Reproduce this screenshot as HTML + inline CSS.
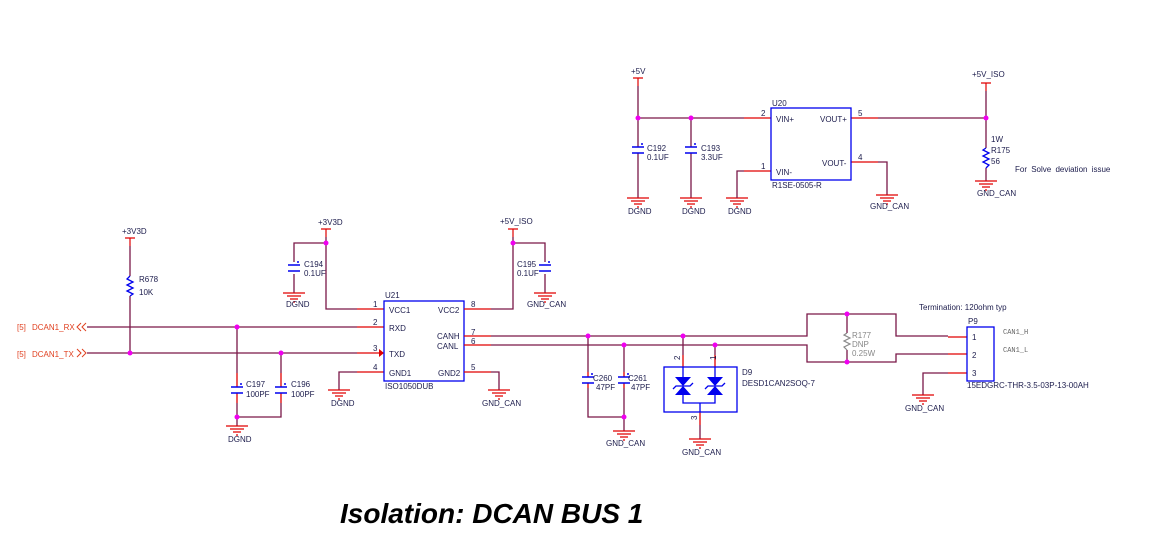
<!DOCTYPE html>
<html><head><meta charset="utf-8"><style>
html,body{margin:0;padding:0;background:#fff;width:1155px;height:543px;overflow:hidden}
svg{display:block}
text{font-family:"Liberation Sans",sans-serif;font-size:8px;fill:#1c1c4c}
.w{stroke:#7a1848;stroke-width:1.3;fill:none}
.r{stroke:#e00000;stroke-width:1.3;fill:none}
.b{stroke:#0000ee;stroke-width:1.3;fill:none}
.j{fill:#f000f0}
</style></head><body>
<svg width="1155" height="543" viewBox="0 0 1155 543" xmlns="http://www.w3.org/2000/svg">
<defs>
<g id="gnd" class="r"><path d="M-11 0H11M-7 3H7M-4 6H4M-1 9H1" stroke="#e00000" stroke-width="1.2"/></g>
<g id="cap"><path d="M-6 -3H6M-6 3H6" stroke="#0000ee" stroke-width="1.4"/><circle cx="4" cy="-6" r="1" fill="#0000ee"/></g>
<g id="pwr"><path d="M-5 0H5M0 0V8" stroke="#e00000" stroke-width="1.2"/></g>
</defs>

<!-- ========== TOP: U20 ========== -->
<text x="631" y="74" font-size="7">+5V</text>
<use href="#pwr" x="638" y="78"/>
<path class="w" d="M638 86V147M638 153V198M638 118H744M691 118V147M691 153V198"/>
<use href="#cap" x="638" y="150"/><use href="#cap" x="691" y="150"/>
<text x="647" y="151">C192</text><text x="647" y="160">0.1UF</text>
<text x="701" y="151">C193</text><text x="701" y="160">3.3UF</text>
<use href="#gnd" x="638" y="198"/><use href="#gnd" x="691" y="198"/><use href="#gnd" x="737" y="198"/>
<text x="628" y="214">DGND</text><text x="682" y="214">DGND</text><text x="728" y="214">DGND</text>
<circle class="j" cx="638" cy="118" r="2.5"/><circle class="j" cx="691" cy="118" r="2.5"/>
<path class="r" d="M744 118H771M744 171H771M851 118H878M851 162H878"/>
<path class="w" d="M737 198V171H744M878 162H887V195M878 118H986"/>
<rect class="b" x="771" y="108" width="80" height="72"/>
<text x="772" y="106">U20</text><text x="772" y="188">R1SE-0505-R</text>
<text x="761" y="116">2</text><text x="761" y="169">1</text><text x="858" y="116">5</text><text x="858" y="160">4</text>
<text x="776" y="122">VIN+</text><text x="776" y="175">VIN-</text>
<text x="820" y="122">VOUT+</text><text x="822" y="166">VOUT-</text>
<use href="#gnd" x="887" y="195"/><text x="870" y="209">GND_CAN</text>
<text x="972" y="77" font-size="7.5">+5V_ISO</text>
<use href="#pwr" x="986" y="83"/>
<path class="w" d="M986 91V148M986 168V181"/>
<circle class="j" cx="986" cy="118" r="2.5"/>
<polyline class="b" points="986,148 983,150 989,153 983,156 989,159 983,162 989,165 986,168"/>
<text x="991" y="142">1W</text><text x="991" y="153">R175</text><text x="991" y="164">56</text>
<use href="#gnd" x="986" y="181"/><text x="977" y="196">GND_CAN</text>
<text x="1015" y="172" word-spacing="2">For Solve deviation issue</text>

<!-- ========== BOTTOM LEFT ========== -->
<text x="122" y="234" font-size="7">+3V3D</text>
<use href="#pwr" x="130" y="238"/>
<path class="w" d="M130 246V276M130 296V353"/>
<polyline class="b" points="130,276 127,279 133,282 127,285 133,288 127,291 133,294 130,296"/>
<text x="139" y="282">R678</text><text x="139" y="295">10K</text>

<text x="17" y="330" style="fill:#e04020">[5]</text><text x="32" y="330" style="fill:#e04020">DCAN1_RX</text>
<text x="17" y="357" style="fill:#e04020">[5]</text><text x="32" y="357" style="fill:#e04020">DCAN1_TX</text>
<path d="M81 323L77 327L81 331M86 323L82 327L86 331" stroke="#e04020" stroke-width="1" fill="none"/>
<path d="M77 349L81 353L77 357M82 349L86 353L82 357" stroke="#e04020" stroke-width="1" fill="none"/>
<path class="w" d="M87 327H357M87 353H357"/>
<path class="w" d="M237 327V373M237 403V417H281V403M281 353V373M237 417V426"/>
<path class="r" d="M237 373V387M237 393V403M281 373V387M281 393V403"/>
<use href="#cap" x="237" y="390"/><use href="#cap" x="281" y="390"/>
<text x="246" y="387">C197</text><text x="246" y="397">100PF</text>
<text x="291" y="387">C196</text><text x="291" y="397">100PF</text>
<use href="#gnd" x="237" y="426"/><text x="228" y="442">DGND</text>
<circle class="j" cx="130" cy="353" r="2.5"/><circle class="j" cx="237" cy="327" r="2.5"/>
<circle class="j" cx="281" cy="353" r="2.5"/><circle class="j" cx="237" cy="417" r="2.5"/>

<!-- U21 -->
<text x="318" y="225" font-size="7">+3V3D</text>
<use href="#pwr" x="326" y="229"/>
<path class="w" d="M326 237V309H357M326 243H294V262M294 274V293"/>
<use href="#cap" x="294" y="268"/>
<text x="304" y="267">C194</text><text x="304" y="276">0.1UF</text>
<use href="#gnd" x="294" y="293"/><text x="286" y="307">DGND</text>
<circle class="j" cx="326" cy="243" r="2.5"/>
<path class="r" d="M357 309H384M357 327H384M357 353H380M357 372H384"/>
<path d="M379 349L384 353L379 357Z" fill="#e00000"/>
<path class="w" d="M357 372H339V390"/>
<use href="#gnd" x="339" y="390"/><text x="331" y="406">DGND</text>
<rect class="b" x="384" y="301" width="80" height="80"/>
<text x="385" y="298">U21</text><text x="385" y="389">ISO1050DUB</text>
<text x="373" y="307">1</text><text x="373" y="325">2</text><text x="373" y="351">3</text><text x="373" y="370">4</text>
<text x="389" y="313">VCC1</text><text x="389" y="331">RXD</text><text x="389" y="357">TXD</text><text x="389" y="376">GND1</text>
<text x="438" y="313">VCC2</text><text x="437" y="339">CANH</text><text x="437" y="349">CANL</text><text x="438" y="376">GND2</text>
<text x="471" y="307">8</text><text x="471" y="335">7</text><text x="471" y="344">6</text><text x="471" y="370">5</text>
<path class="r" d="M464 309H491M464 336H491M464 345H491M464 372H491"/>
<text x="500" y="224" font-size="7.5">+5V_ISO</text>
<use href="#pwr" x="513" y="229"/>
<path class="w" d="M513 237V309H491M513 243H545V262M545 274V293M491 372H499V390"/>
<use href="#cap" x="545" y="268"/>
<text x="517" y="267">C195</text><text x="517" y="276">0.1UF</text>
<use href="#gnd" x="545" y="293"/><text x="527" y="307">GND_CAN</text>
<circle class="j" cx="513" cy="243" r="2.5"/>
<use href="#gnd" x="499" y="390"/><text x="482" y="406">GND_CAN</text>

<!-- CAN bus -->
<path class="w" d="M491 336H807V314H896V336H948M491 345H807V362H896V354H948"/>
<path class="r" d="M948 337H967M948 354H967M948 373H967"/>
<path class="w" d="M588 336V372M588 388V417H624M624 345V372M624 388V431"/>
<path class="r" d="M588 372V377M588 383V388M624 372V377M624 383V388"/>
<use href="#cap" x="588" y="380"/><use href="#cap" x="624" y="380"/>
<text x="593" y="381">C260</text><text x="596" y="390">47PF</text>
<text x="628" y="381">C261</text><text x="631" y="390">47PF</text>
<use href="#gnd" x="624" y="431"/><text x="606" y="446">GND_CAN</text>
<circle class="j" cx="588" cy="336" r="2.5"/><circle class="j" cx="624" cy="345" r="2.5"/><circle class="j" cx="624" cy="417" r="2.5"/>

<!-- D9 -->
<path class="w" d="M683 336V355M715 345V355M700 425V439"/>
<path class="r" d="M683 355V367M715 355V367M700 412V425"/>
<circle class="j" cx="683" cy="336" r="2.5"/><circle class="j" cx="715" cy="345" r="2.5"/>
<rect class="b" x="664" y="367" width="73" height="45"/>
<path class="b" d="M683 367V377M683 395V403H715V395M715 367V377M700 403V412"/>
<path d="M675 377H691L683 386ZM675 395H691L683 386ZM707 377H723L715 386ZM707 395H723L715 386Z" fill="#0000ee"/>
<path class="b" d="M673 389L676 386H690L693 383M705 389L708 386H722L725 383"/>
<text x="0" y="0" transform="translate(680,360) rotate(-90)" font-size="7">2</text>
<text x="0" y="0" transform="translate(716,360) rotate(-90)" font-size="7">1</text>
<text x="0" y="0" transform="translate(697,420) rotate(-90)" font-size="7">3</text>
<text x="742" y="375">D9</text><text x="742" y="386">DESD1CAN2SOQ-7</text>
<use href="#gnd" x="700" y="439"/><text x="682" y="455">GND_CAN</text>

<!-- R177 -->
<path class="w" d="M847 314V333M847 350V362"/>
<polyline points="847,333 844,335 850,338 844,341 850,344 844,347 847,350" stroke="#888" stroke-width="1.2" fill="none"/>
<circle class="j" cx="847" cy="314" r="2.5"/><circle class="j" cx="847" cy="362" r="2.5"/>
<text x="852" y="338" style="fill:#888">R177</text><text x="852" y="347" style="fill:#888">DNP</text><text x="852" y="356" style="fill:#888">0.25W</text>
<text x="919" y="310">Termination: 120ohm typ</text>

<!-- P9 -->
<rect class="b" x="967" y="327" width="27" height="54"/>
<text x="968" y="324">P9</text>
<text x="972" y="340">1</text><text x="972" y="358">2</text><text x="972" y="376">3</text>
<text x="1003" y="334" style="font-family:'Liberation Mono',monospace;font-size:7px;fill:#666">CAN1_H</text>
<text x="1003" y="352" style="font-family:'Liberation Mono',monospace;font-size:7px;fill:#666">CAN1_L</text>
<text x="967" y="388">15EDGRC-THR-3.5-03P-13-00AH</text>
<path class="w" d="M948 373H923V395"/>
<use href="#gnd" x="923" y="395"/><text x="905" y="411">GND_CAN</text>

<text x="340" y="523" style="font-size:28px;font-weight:bold;font-style:italic;fill:#000">Isolation: DCAN BUS 1</text>
</svg>
</body></html>
